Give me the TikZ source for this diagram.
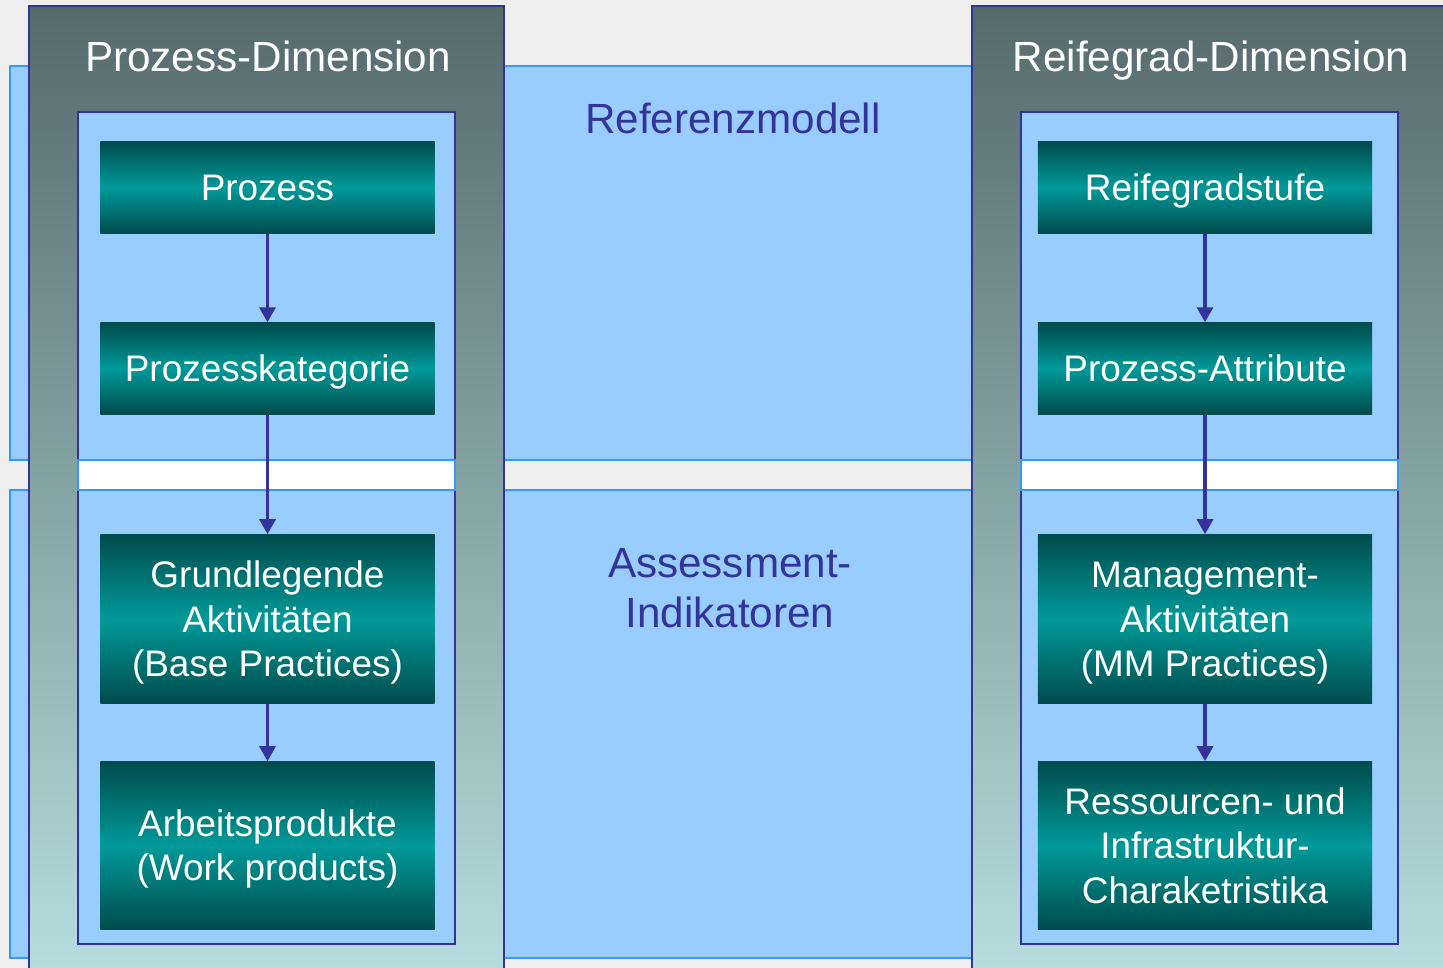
\documentclass[tikz,border=0pt]{standalone}
\usepackage{fontspec}
\setmainfont{Liberation Sans}
\usepackage{tikz}
\usetikzlibrary{arrows.meta}
\usetikzlibrary{positioning}
\definecolor{bggray}{HTML}{EEEEEE}
\definecolor{lightblue}{HTML}{99CCFF}
\definecolor{bandblue}{HTML}{3399FF}
\definecolor{darkblue}{HTML}{333399}
\definecolor{coltop}{HTML}{566A6C}
\definecolor{colbottom}{HTML}{B8DFE0}
\definecolor{tealdark}{HTML}{004C4C}
\definecolor{tealmid}{HTML}{009999}
\tikzset{band/.style = {fill=lightblue, draw=bandblue, line width=1.5*0.01cm}}
\tikzset{column/.style = {top color=coltop, bottom color=colbottom, draw=darkblue, line width=2*0.01cm}}
\tikzset{inner/.style = {fill=lightblue, draw=darkblue, line width=2*0.01cm}}
\tikzset{strip/.style = {fill=white, draw=bandblue, line width=1.5*0.01cm}}
\tikzset{tealbox/.style = {top color=tealdark, bottom color=tealdark, middle color=tealmid,
                           text=white, align=center, inner sep=0, minimum width=3.34cm,
                           text depth=0pt, text height=7.52pt+(#1-1)*12.66pt,
                           font=\fontsize{10.5}{12.66}\selectfont},
         tealbox/.default=1}
\tikzset{dimtitle/.style = {text=white, anchor=base, font=\fontsize{12}{14}\selectfont}}
\tikzset{bandtitle/.style = {text=darkblue, align=center, font=\fontsize{12}{14.2}\selectfont}}
\tikzset{flow/.style = {draw=darkblue, line width=3.2*0.01cm,
                        -{Triangle[width=16*0.01cm, length=15*0.01cm]}}}

\begin{document}
\begin{tikzpicture}[x=0.01cm, y=-0.01cm]
    \useasboundingbox (0, 0) rectangle (1443, 968);
    \fill [bggray] (0, 0) rectangle (1443, 968);
    \draw [band] (10, 66) rectangle (1460, 460);
    \draw [band] (10, 490) rectangle (1460, 958);
    \draw [column] (29, 6) rectangle (504, 990);
    \draw [column] (972, 6) rectangle (1460, 990);
    \draw [inner] (78, 112) rectangle (455, 944);
    \draw [inner] (1021, 112) rectangle (1398, 944);
    \draw [strip] (78, 460) rectangle (455, 490);
    \draw [strip] (1021, 460) rectangle (1398, 490);
    \node [dimtitle] (prozdim) at (268, 72) {Prozess-Dimension};
    \node [dimtitle] (reifdim) at (1211, 72) {Reifegrad-Dimension};
    \node [bandtitle] (refmod) at (733, 118) {Referenzmodell};
    \node [bandtitle] (assind) at (730, 588) {Assessment-\\Indikatoren};
    \node [tealbox, minimum height=0.91cm] (proz) at (267.5, 187.5) {Prozess};
    \node [tealbox, minimum height=0.91cm] (prozkat) at (267.5, 368.5) {Prozesskategorie};
    \node [tealbox=3, minimum height=1.68cm] (basepr) at (267.5, 619) {Grundlegende\\Aktivit\"aten\\(Base Practices)};
    \node [tealbox=2, minimum height=1.67cm] (workpr) at (267.5, 845.5) {Arbeitsprodukte\\(Work products)};
    \node [tealbox, minimum height=0.91cm] (stufe) at (1205, 187.5) {Reifegradstufe};
    \node [tealbox, minimum height=0.91cm] (attr) at (1205, 368.5) {Prozess-Attribute};
    \node [tealbox=3, minimum height=1.68cm] (mgmt) at (1205, 619) {Management-\\Aktivit\"aten\\(MM Practices)};
    \node [tealbox=3, minimum height=1.67cm] (ress) at (1205, 845.5) {Ressourcen- und\\Infrastruktur-\\Charaketristika};
    \draw [flow] (proz) -- (prozkat);
    \draw [flow] (prozkat) -- (basepr);
    \draw [flow] (basepr) -- (workpr);
    \draw [flow] (stufe) -- (attr);
    \draw [flow] (attr) -- (mgmt);
    \draw [flow] (mgmt) -- (ress);
  \end{tikzpicture}
\end{document}
